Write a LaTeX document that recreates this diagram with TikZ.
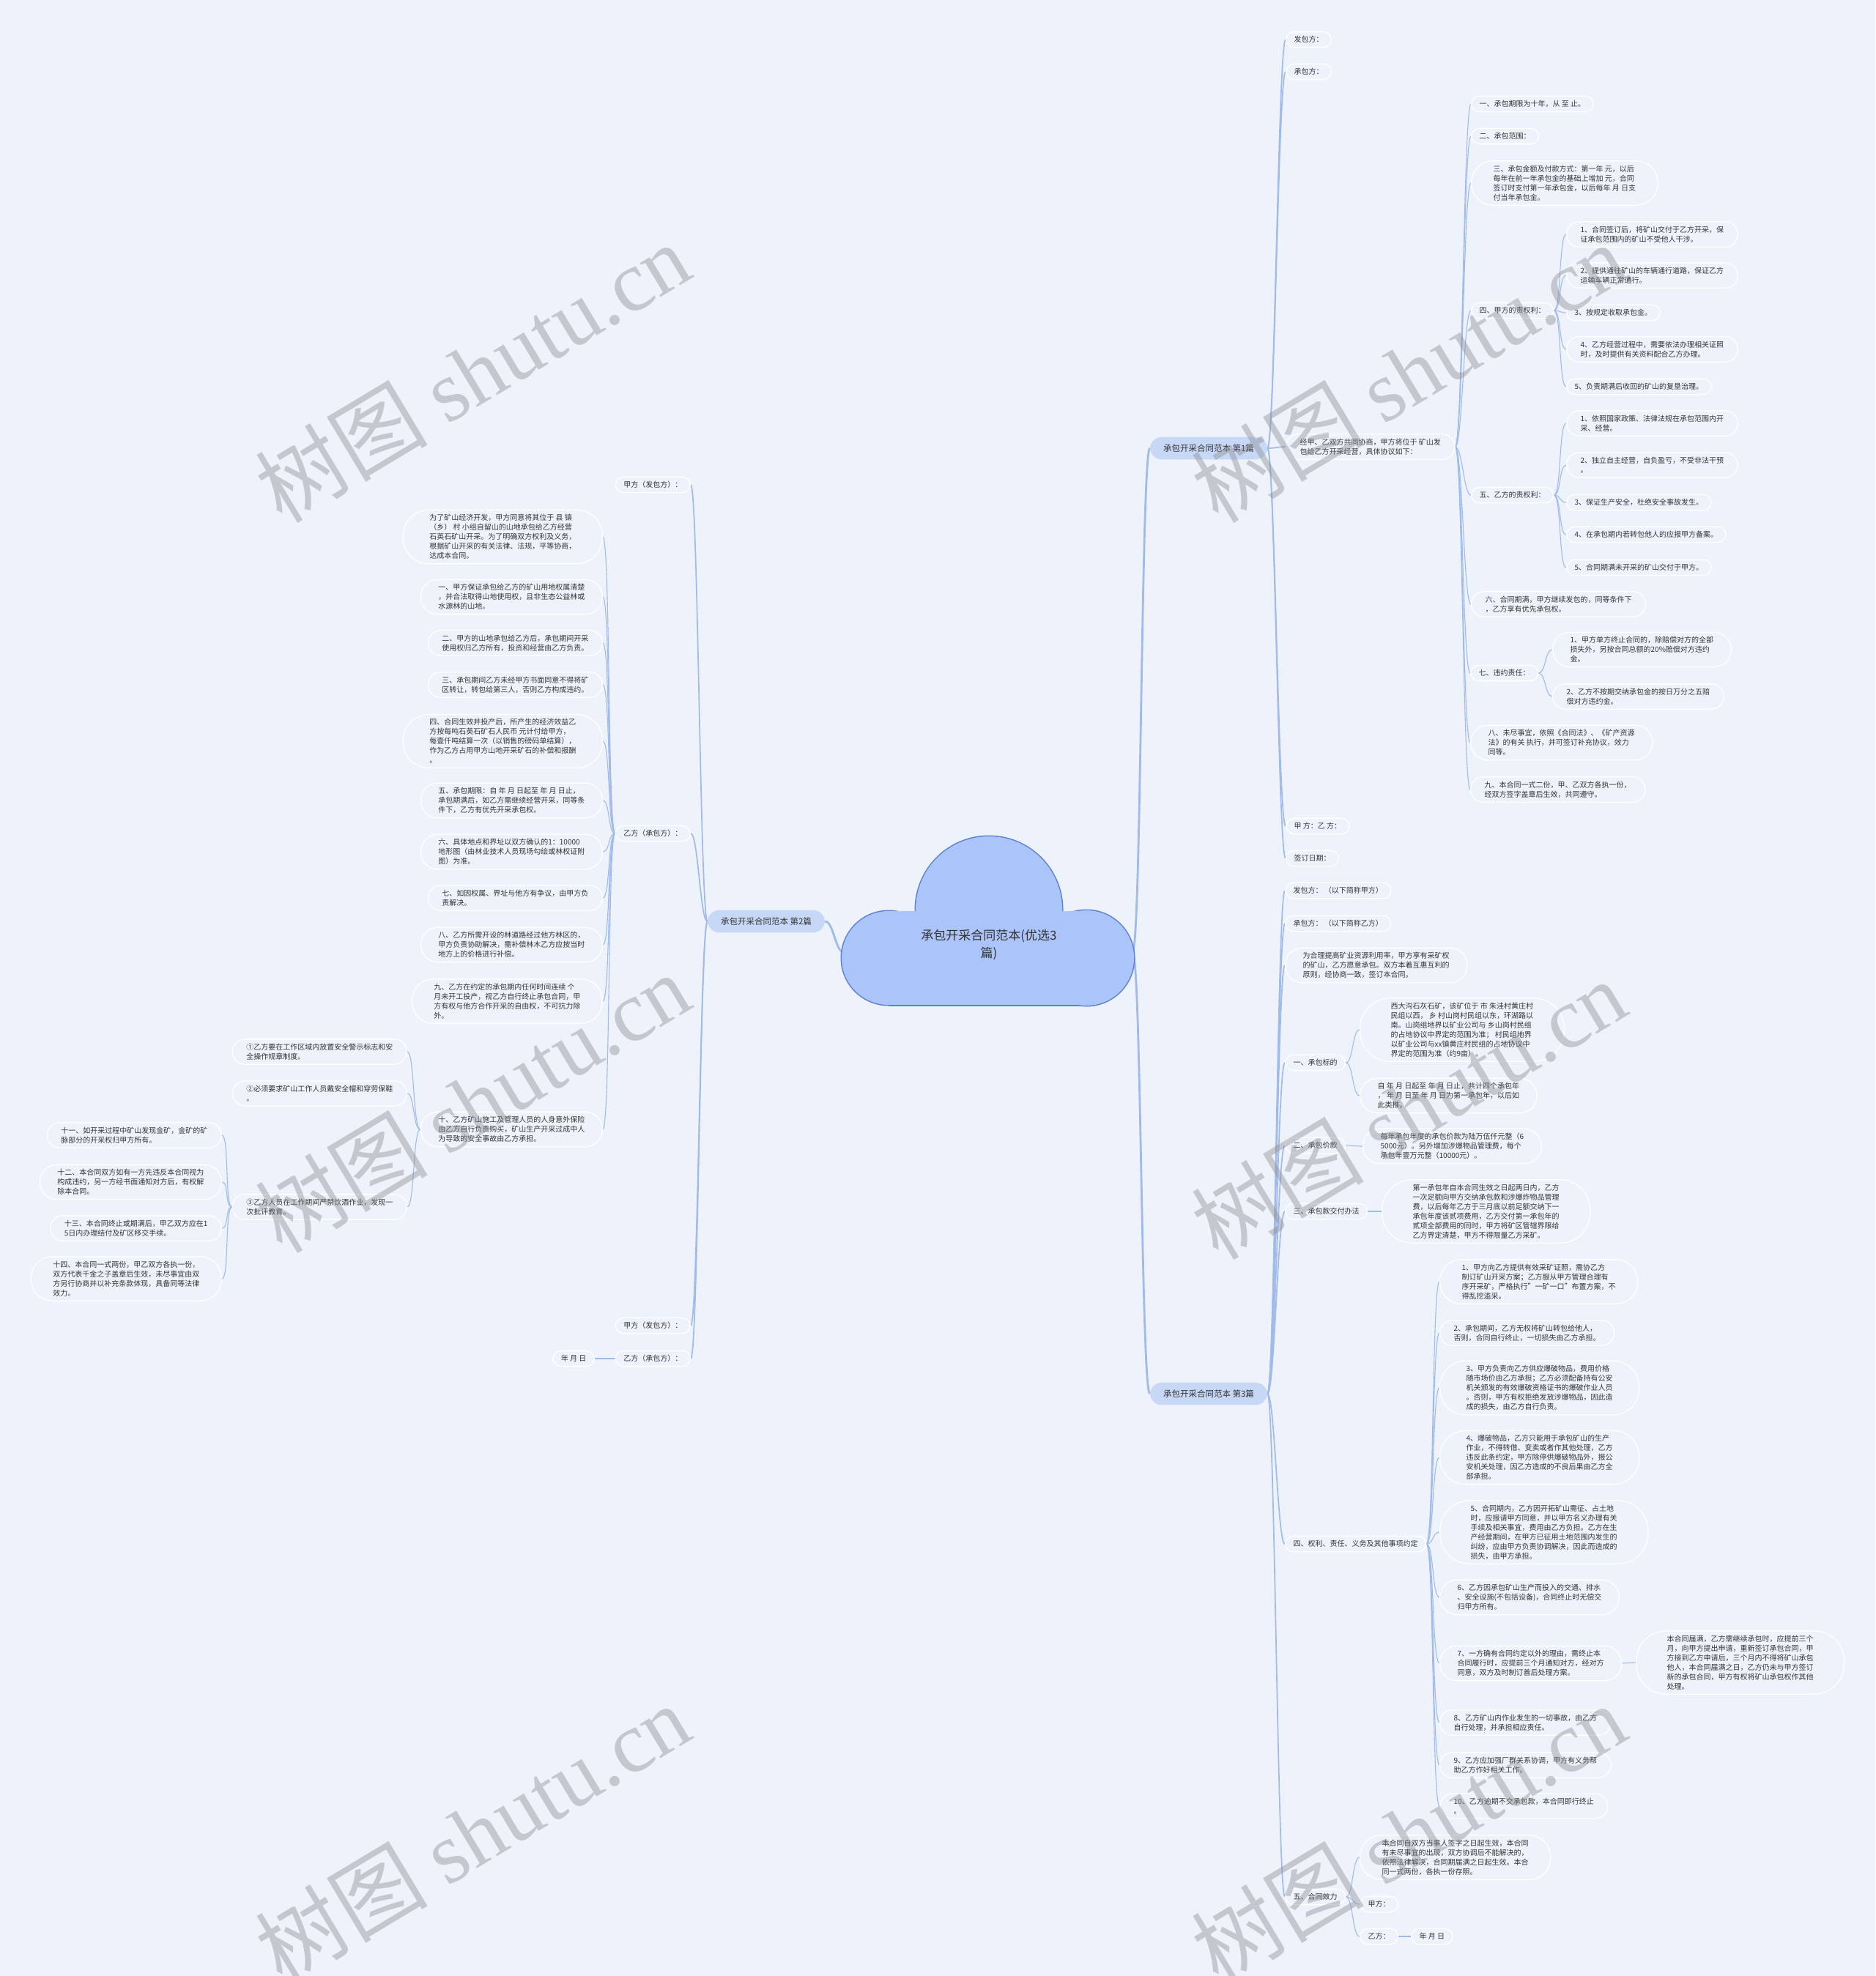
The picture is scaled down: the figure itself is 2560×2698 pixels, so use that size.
\documentclass[tikz,border=0pt]{standalone}
\usepackage{fontspec}
\setmainfont{Noto Sans CJK SC}
\newfontfamily\wmfont{Liberation Serif}
\definecolor{bgc}{RGB}{238,243,251}
\definecolor{linec}{RGB}{160,186,236}
\definecolor{txtc}{RGB}{51,51,51}
\definecolor{mainc}{RGB}{199,216,247}
\definecolor{cloudc}{RGB}{171,197,251}
\definecolor{cloudb}{RGB}{92,128,212}
\definecolor{wmc}{RGB}{140,140,145}
\pgfdeclarelayer{bglayer}
\pgfdeclarelayer{lines}
\pgfsetlayers{bglayer,lines,main}
\tikzset{
  leaf/.style={draw=white, line width=1.3pt, fill=bgc, rounded corners=11pt, inner xsep=11pt, inner ysep=6pt, text=txtc, font=\fontsize{10}{13}\selectfont, align=left},
  L2/.style={leaf, rounded corners=17pt, inner xsep=19pt},
  L3/.style={leaf, rounded corners=23pt, inner xsep=24pt},
  L4/.style={leaf, rounded corners=29pt, inner xsep=30pt},
  L5/.style={leaf, rounded corners=35pt, inner xsep=36pt},
  L6/.style={leaf, rounded corners=41pt, inner xsep=42pt},
  mainnode/.style={fill=mainc, rounded corners=16pt, inner xsep=18pt, inner ysep=10pt, text=txtc, font=\fontsize{11.5}{14}\selectfont},
  conn/.style={draw=linec, line width=1.1pt},
  conn1/.style={draw=linec, line width=1.7pt},
  conn0/.style={draw=linec, line width=2.8pt},
  wm/.style={text=wmc, opacity=0.42, font=\fontsize{118}{130}\selectfont, rotate=31}
}
\newcommand\linkR[3][conn]{\draw[#1] (#2.east) .. controls +(10,0) and +(-10,0) .. (#3.west);}
\newcommand\linkL[3][conn]{\draw[#1] (#2.west) .. controls +(-10,0) and +(10,0) .. (#3.east);}
\begin{document}
\begin{tikzpicture}[x=1pt,y=-1pt]
\begin{pgfonlayer}{bglayer}
\fill[bgc] (0,0) rectangle (2560,2698);
\end{pgfonlayer}
\useasboundingbox (0,0) rectangle (2560,2698);

% ---------- cloud (root) ----------
\draw[cloudb, line width=3pt] (1213,1308) circle[radius=64];
\draw[cloudb, line width=3pt] (1483,1308) circle[radius=65];
\draw[cloudb, line width=3pt] (1350,1242) circle[radius=100];
\draw[cloudb, line width=3pt] (1213,1372) -- (1483,1372);
\fill[cloudc] (1213,1308) circle[radius=64];
\fill[cloudc] (1483,1308) circle[radius=65];
\fill[cloudc] (1350,1242) circle[radius=100];
\fill[cloudc] (1213,1244) rectangle (1483,1372);
\node[font=\fontsize{17}{24}\selectfont, text=txtc, align=center] (root) at (1350,1290) {承包开采合同范本(优选3\\篇)};
\coordinate (rootE) at (1546,1300);
\coordinate (rootW) at (1152,1300);

% ---------- main topics ----------
\node[mainnode] (M1) at (1650,612) {承包开采合同范本 第1篇};
\node[mainnode] (M3) at (1650,1903) {承包开采合同范本 第3篇};
\node[mainnode] (M2) at (1046,1258) {承包开采合同范本 第2篇};

% ---------- part 1 ----------
\node[leaf, anchor=west] (a1) at (1755,54) {发包方：};
\node[leaf, anchor=west] (a2) at (1755,98) {承包方：};
\node[L2, anchor=west] (a3) at (1755,610) {经甲、乙双方共同协商，甲方将位于 矿山发\\包给乙方开采经营，具体协议如下：};
\node[leaf, anchor=west] (a4) at (1755,1128) {甲 方：乙 方：};
\node[leaf, anchor=west] (a5) at (1755,1172) {签订日期：};

\node[leaf, anchor=west] (b1) at (2008,142) {一、承包期限为十年，从 至 止。};
\node[leaf, anchor=west] (b2) at (2008,186) {二、承包范围：};
\node[L4, anchor=west] (b3) at (2008,250) {三、承包金额及付款方式：第一年 元，以后\\每年在前一年承包金的基础上增加 元，合同\\签订时支付第一年承包金，以后每年 月 日支\\付当年承包金。};
\node[leaf, anchor=west] (b4) at (2008,424) {四、甲方的责权利：};
\node[leaf, anchor=west] (b5) at (2008,676) {五、乙方的责权利：};
\node[L2, anchor=west] (b6) at (2008,825) {六、合同期满，甲方继续发包的，同等条件下\\，乙方享有优先承包权。};
\node[leaf, anchor=west] (b7) at (2007,919) {七、违约责任：};
\node[L3, anchor=west] (b8) at (2007,1014) {八、未尽事宜，依照《合同法》、《矿产资源\\法》的有关 执行，并可签订补充协议，效力\\同等。};
\node[L2, anchor=west] (b9) at (2007,1078) {九、本合同一式二份，甲、乙双方各执一份，\\经双方签字盖章后生效，共同遵守。};

\node[L2, anchor=west] (b41) at (2138,320) {1、合同签订后，将矿山交付于乙方开采，保\\证承包范围内的矿山不受他人干涉。};
\node[L2, anchor=west] (b42) at (2138,376) {2、提供通往矿山的车辆通行道路，保证乙方\\运输车辆正常通行。};
\node[leaf, anchor=west] (b43) at (2138,427) {3、按规定收取承包金。};
\node[L2, anchor=west] (b44) at (2138,477) {4、乙方经营过程中，需要依法办理相关证照\\时，及时提供有关资料配合乙方办理。};
\node[leaf, anchor=west] (b45) at (2138,528) {5、负责期满后收回的矿山的复垦治理。};

\node[L2, anchor=west] (b51) at (2138,578) {1、依照国家政策、法律法规在承包范围内开\\采、经营。};
\node[L2, anchor=west] (b52) at (2138,635) {2、独立自主经营，自负盈亏，不受非法干预\\。};
\node[leaf, anchor=west] (b53) at (2138,686) {3、保证生产安全，杜绝安全事故发生。};
\node[leaf, anchor=west] (b54) at (2138,730) {4、在承包期内若转包他人的应报甲方备案。};
\node[leaf, anchor=west] (b55) at (2138,775) {5、合同期满未开采的矿山交付于甲方。};

\node[L3, anchor=west] (b71) at (2119,887) {1、甲方单方终止合同的，除赔偿对方的全部\\损失外，另按合同总额的20\%赔偿对方违约\\金。};
\node[L2, anchor=west] (b72) at (2119,951) {2、乙方不按期交纳承包金的按日万分之五赔\\偿对方违约金。};

% ---------- part 3 ----------
\node[leaf, anchor=west] (c1) at (1754,1216) {发包方： （以下简称甲方）};
\node[leaf, anchor=west] (c2) at (1754,1261) {承包方： （以下简称乙方）};
\node[L3, anchor=west] (c3) at (1754,1318) {为合理提高矿业资源利用率，甲方享有采矿权\\的矿山，乙方愿意承包。双方本着互惠互利的\\原则，经协商一致，签订本合同。};
\node[leaf, anchor=west] (c4) at (1754,1451) {一、承包标的};
\node[leaf, anchor=west] (c5) at (1754,1564) {二、承包价款};
\node[leaf, anchor=west] (c6) at (1754,1654) {三、承包款交付办法};
\node[leaf, anchor=west] (c7) at (1754,2108) {四、权利、责任、义务及其他事项约定};
\node[leaf, anchor=west] (c8) at (1754,2590) {五、合同效力};

\node[L6, anchor=west] (c41) at (1856,1406) {西大沟石灰石矿，该矿位于 市 朱洼村黄庄村\\民组以西， 乡 村山岗村民组以东，环湖路以\\南。山岗组地界以矿业公司与 乡山岗村民组\\的占地协议中界定的范围为准； 村民组地界\\以矿业公司与xx镇黄庄村民组的占地协议中\\界定的范围为准（约9亩）。};
\node[L3, anchor=west] (c42) at (1856,1496) {自 年 月 日起至 年 月 日止，共计四个承包年\\， 年 月 日至 年 月 日为第一承包年，以后如\\此类推。};
\node[L3, anchor=west] (c51) at (1860,1565) {每年承包年度的承包价款为陆万伍仟元整（6\\5000元）。另外增加涉爆物品管理费，每个\\承包年壹万元整（10000元）。};
\node[L6, anchor=west] (c61) at (1886,1654) {第一承包年自本合同生效之日起两日内，乙方\\一次足额向甲方交纳承包款和涉爆炸物品管理\\费，以后每年乙方于三月底以前足额交纳下一\\承包年度该贰项费用，乙方交付第一承包年的\\贰项全部费用的同时，甲方将矿区管辖界限给\\乙方界定清楚，甲方不得限量乙方采矿。};

\node[L4, anchor=west] (d1) at (1965,1750) {1、甲方向乙方提供有效采矿证照，需协乙方\\制订矿山开采方案；乙方服从甲方管理合理有\\序开采矿，严格执行"一矿一口"布置方案，不\\得乱挖滥采。};
\node[L2, anchor=west] (d2) at (1965,1820) {2、承包期间，乙方无权将矿山转包给他人，\\否则，合同自行终止，一切损失由乙方承担。};
\node[L5, anchor=west] (d3) at (1965,1895) {3、甲方负责向乙方供应爆破物品，费用价格\\随市场价由乙方承担；乙方必须配备持有公安\\机关颁发的有效爆破资格证书的爆破作业人员\\。否则，甲方有权拒绝发放涉爆物品，因此造\\成的损失，由乙方自行负责。};
\node[L5, anchor=west] (d4) at (1965,1990) {4、爆破物品，乙方只能用于承包矿山的生产\\作业，不得转借、变卖或者作其他处理，乙方\\违反此条约定，甲方除停供爆破物品外，报公\\安机关处理，因乙方造成的不良后果由乙方全\\部承担。};
\node[L6, anchor=west] (d5) at (1965,2092) {5、合同期内，乙方因开拓矿山需征、占土地\\时，应报请甲方同意，并以甲方名义办理有关\\手续及相关事宜，费用由乙方负担。乙方在生\\产经营期间，在甲方已征用土地范围内发生的\\纠纷，应由甲方负责协调解决，因此而造成的\\损失，由甲方承担。};
\node[L3, anchor=west] (d6) at (1965,2181) {6、乙方因承包矿山生产而投入的交通、排水\\、安全设施(不包括设备)，合同终止时无偿交\\归甲方所有。};
\node[L3, anchor=west] (d7) at (1965,2271) {7、一方确有合同约定以外的理由，需终止本\\合同履行时，应提前三个月通知对方，经对方\\同意，双方及时制订善后处理方案。};
\node[L2, anchor=west] (d8) at (1965,2352) {8、乙方矿山内作业发生的一切事故，由乙方\\自行处理，并承担相应责任。};
\node[L2, anchor=west] (d9) at (1965,2410) {9、乙方应加强厂群关系协调，甲方有义务帮\\助乙方作好相关工作。};
\node[L2, anchor=west] (d10) at (1965,2466) {10、乙方逾期不交承包款，本合同即行终止\\。};
\node[L6, anchor=west] (d71) at (2233,2270) {本合同届满，乙方需继续承包时，应提前三个\\月，向甲方提出申请，重新签订承包合同，甲\\方接到乙方申请后，三个月内不得将矿山承包\\他人，本合同届满之日，乙方仍未与甲方签订\\新的承包合同，甲方有权将矿山承包权作其他\\处理。};

\node[L4, anchor=west] (c81) at (1856,2536) {本合同自双方当事人签字之日起生效，本合同\\有未尽事宜的出现，双方协调后不能解决的，\\依照法律解决，合同期届满之日起生效。本合\\同一式两份，各执一份存照。};
\node[leaf, anchor=west] (c82) at (1856,2600) {甲方：};
\node[leaf, anchor=west] (c83) at (1856,2644) {乙方：};
\node[leaf, anchor=west] (c84) at (1926,2644) {年 月 日};

% ---------- part 2 (left) ----------
\node[leaf, anchor=east] (e1) at (943,662) {甲方（发包方）：};
\node[leaf, anchor=east] (e2) at (943,1138) {乙方（承包方）：};
\node[leaf, anchor=east] (e3) at (943,1810) {甲方（发包方）：};
\node[leaf, anchor=east] (e4) at (943,1855) {乙方（承包方）：};
\node[leaf, anchor=east] (e41) at (812,1855) {年 月 日};

\node[L5, anchor=east] (f0) at (823,733) {为了矿山经济开发，甲方同意将其位于 县 镇\\（乡） 村 小组自留山的山地承包给乙方经营\\石英石矿山开采。为了明确双方权利及义务，\\根据矿山开采的有关法律、法规，平等协商，\\达成本合同。};
\node[L3, anchor=east] (f1) at (823,815) {一、甲方保证承包给乙方的矿山用地权属清楚\\，并合法取得山地使用权，且非生态公益林或\\水源林的山地。};
\node[L2, anchor=east] (f2) at (823,878) {二、甲方的山地承包给乙方后，承包期间开采\\使用权归乙方所有，投资和经营由乙方负责。};
\node[L2, anchor=east] (f3) at (823,935) {三、承包期间乙方未经甲方书面同意不得将矿\\区转让，转包给第三人，否则乙方构成违约。};
\node[L5, anchor=east] (f4) at (823,1012) {四、合同生效并投产后，所产生的经济效益乙\\方按每吨石英石矿石人民币 元计付给甲方，\\每壹仟吨结算一次（以销售的磅码单结算），\\作为乙方占用甲方山地开采矿石的补偿和报酬\\。};
\node[L3, anchor=east] (f5) at (823,1093) {五、承包期限：自 年 月 日起至 年 月 日止，\\承包期满后，如乙方需继续经营开采，同等条\\件下，乙方有优先开采承包权。};
\node[L3, anchor=east] (f6) at (823,1163) {六、具体地点和界址以双方确认的1：10000\\地形图（由林业技术人员现场勾绘或林权证附\\图）为准。};
\node[L2, anchor=east] (f7) at (823,1226) {七、如因权属、界址与他方有争议，由甲方负\\责解决。};
\node[L3, anchor=east] (f8) at (823,1290) {八、乙方所需开设的林道路经过他方林区的，\\甲方负责协助解决，需补偿林木乙方应按当时\\地方上的价格进行补偿。};
\node[L4, anchor=east] (f9) at (823,1367) {九、乙方在约定的承包期内任何时间连续 个\\月未开工投产，视乙方自行终止承包合同，甲\\方有权与他方合作开采的自由权，不可抗力除\\外。};
\node[L3, anchor=east] (f10) at (823,1542) {十、乙方矿山施工及管理人员的人身意外保险\\由乙方自行负责购买，矿山生产开采过成中人\\为导致的安全事故由乙方承担。};

\node[L2, anchor=east] (g1) at (556,1436) {①乙方要在工作区域内放置安全警示标志和安\\全操作规章制度。};
\node[L2, anchor=east] (g2) at (556,1493) {②必须要求矿山工作人员戴安全帽和穿劳保鞋\\。};
\node[L2, anchor=east] (g3) at (556,1648) {③乙方人员在工作期间严禁饮酒作业，发现一\\次批评教育。};

\node[L2, anchor=east] (h1) at (303,1550) {十一、如开采过程中矿山发现金矿，金矿的矿\\脉部分的开采权归甲方所有。};
\node[L3, anchor=east] (h2) at (303,1614) {十二、本合同双方如有一方先违反本合同视为\\构成违约，另一方经书面通知对方后，有权解\\除本合同。};
\node[L2, anchor=east] (h3) at (303,1677) {十三、本合同终止或期满后，甲乙双方应在1\\5日内办理结付及矿区移交手续。};
\node[L4, anchor=east] (h4) at (303,1746) {十四、本合同一式两份，甲乙双方各执一份，\\双方代表千金之子盖章后生效，未尽事宜由双\\方另行协商并以补充条款体现，具备同等法律\\效力。};

% ---------- connectors ----------
\begin{pgfonlayer}{lines}
\draw[conn0] (rootE) .. controls +(12,0) and +(-12,0) .. (M1.west);
\draw[conn0] (rootE) .. controls +(12,0) and +(-12,0) .. (M3.west);
\draw[conn0] (rootW) .. controls +(-12,0) and +(12,0) .. (M2.east);
\foreach \c in {a1,a2,a3,a4,a5} {\linkR[conn1]{M1}{\c}}
\foreach \c in {b1,b2,b3,b4,b5,b6,b7,b8,b9} {\linkR{a3}{\c}}
\foreach \c in {b41,b42,b43,b44,b45} {\linkR{b4}{\c}}
\foreach \c in {b51,b52,b53,b54,b55} {\linkR{b5}{\c}}
\foreach \c in {b71,b72} {\linkR{b7}{\c}}
\foreach \c in {c1,c2,c3,c4,c5,c6,c7,c8} {\linkR[conn1]{M3}{\c}}
\foreach \c in {c41,c42} {\linkR{c4}{\c}}
\linkR{c5}{c51}
\linkR{c6}{c61}
\foreach \c in {d1,d2,d3,d4,d5,d6,d7,d8,d9,d10} {\linkR{c7}{\c}}
\linkR{d7}{d71}
\foreach \c in {c81,c82,c83} {\linkR{c8}{\c}}
\linkR{c83}{c84}
\foreach \c in {e1,e2,e3,e4} {\linkL[conn1]{M2}{\c}}
\linkL{e4}{e41}
\foreach \c in {f0,f1,f2,f3,f4,f5,f6,f7,f8,f9,f10} {\linkL{e2}{\c}}
\foreach \c in {g1,g2,g3} {\linkL{f10}{\c}}
\foreach \c in {h1,h2,h3,h4} {\linkL{g3}{\c}}
\end{pgfonlayer}

% ---------- watermarks ----------
\node[wm] (w1) at (645,508) {树图 {\wmfont shutu.cn}};
\node[wm] (w2) at (1923,508) {树图 {\wmfont shutu.cn}};
\node[wm] (w3) at (645,1505) {树图 {\wmfont shutu.cn}};
\node[wm] (w4) at (1923,1514) {树图 {\wmfont shutu.cn}};
\node[wm] (w5) at (645,2503) {树图 {\wmfont shutu.cn}};
\node[wm] (w6) at (1923,2503) {树图 {\wmfont shutu.cn}};
\end{tikzpicture}
\end{document}
